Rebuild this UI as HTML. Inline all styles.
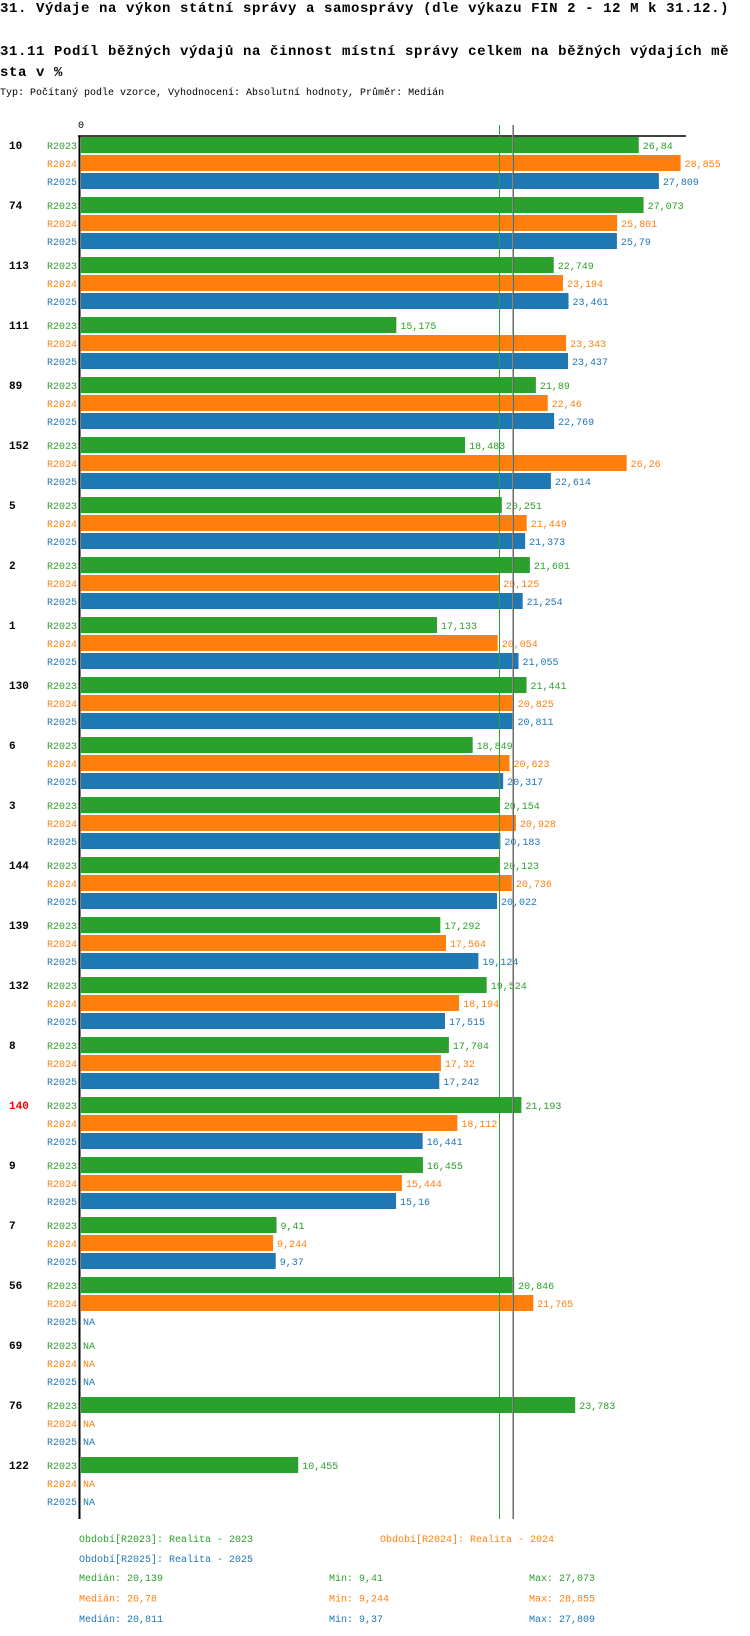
<!DOCTYPE html>
<html><head><meta charset="utf-8"><style>
body{margin:0;background:#fff;width:750px;height:1636px;overflow:hidden;font-family:"Liberation Mono",monospace;}
.t{position:absolute;left:0;font-weight:bold;font-size:14px;letter-spacing:0.6px;white-space:nowrap;color:#000}
.s{position:absolute;left:0;font-size:10px;letter-spacing:0;white-space:nowrap}
</style></head><body>
<div class="t" style="top:1px">31. Výdaje na výkon státní správy a samosprávy (dle výkazu FIN 2 - 12 M k 31.12.)</div>
<div class="t" style="top:44px">31.11 Podíl běžných výdajů na činnost místní správy celkem na běžných výdajích mě</div>
<div class="t" style="top:65px">sta v %</div>
<div class="s" style="top:88px">Typ: Počítaný podle vzorce, Vyhodnocení: Absolutní hodnoty, Průměr: Medián</div>
<svg id="c" width="750" height="1636" style="position:absolute;left:0;top:0"></svg>
<script>
const groups=["10","74","113","111","89","152","5","2","1","130","6","3","144","139","132","8","140","9","7","56","69","76","122"];
const s2023=[26.84,27.073,22.749,15.175,21.89,18.483,20.251,21.601,17.133,21.441,18.849,20.154,20.123,17.292,19.524,17.704,21.193,16.455,9.41,20.846,null,23.783,10.455];
const s2024=[28.855,25.801,23.194,23.343,22.46,26.26,21.449,20.125,20.054,20.825,20.623,20.928,20.736,17.564,18.194,17.32,18.112,15.444,9.244,21.765,null,null,null];
const s2025=[27.809,25.79,23.461,23.437,22.769,22.614,21.373,21.254,21.055,20.811,20.317,20.183,20.022,19.124,17.515,17.242,16.441,15.16,9.37,null,null,null,null];
const seriesNames=["R2023","R2024","R2025"];
const medians=[20.139,20.78,20.811];
const mins=[9.41,9.244,9.37];
const maxs=[27.073,28.855,27.809];
const colors=["#2ca02c","#ff7f0e","#1f77b4"];
const svg=document.getElementById('c');
const NS="http://www.w3.org/2000/svg";
const x0=81,k=20.78;
const X=v=>x0+v*k;
const Y=(g,s)=>137+g*60+s*18;
const fmt=v=>String(v).replace('.',',');
function mk(t,a,txt){const e=document.createElementNS(NS,t);for(const n in a)e.setAttribute(n,a[n]);if(txt!==undefined)e.textContent=txt;svg.appendChild(e);return e;}
const all=[s2023,s2024,s2025];
const yEnd=Y(groups.length-1,2)+26;
let e=mk('line',{x1:79.5,y1:136,x2:79.5,y2:yEnd,stroke:'#000','stroke-width':2});


e=mk('line',{x1:78,y1:136,x2:686,y2:136,stroke:'#000','stroke-width':1.5});


e=mk('text',{x:X(0)-3,y:128,'font-size':10,'font-family':'Liberation Mono, monospace'},'0');


groups.forEach((g,gi)=>{
  e=mk('text',{x:9,y:Y(gi,0)+12,'font-size':11,'font-weight':'bold',fill:g==="140"?'#ff0000':'#000','font-family':'Liberation Mono, monospace'},g);
  
  
  all.forEach((ser,si)=>{
    const y=Y(gi,si),v=ser[gi];
    e=mk('text',{x:77,y:y+12,'font-size':10,fill:colors[si],'text-anchor':'end','font-family':'Liberation Mono, monospace'},seriesNames[si]);
    
    
    if(v===null){
      e=mk('text',{x:83,y:y+12,'font-size':10,fill:colors[si],'font-family':'Liberation Mono, monospace'},'NA');
      
      
      return;
    }
    e=mk('rect',{x:x0,y:y,width:X(v)-x0,height:16,fill:colors[si]});
    
    
    e=mk('text',{x:X(v)+4,y:y+12,'font-size':10,fill:colors[si],'font-family':'Liberation Mono, monospace'},fmt(v));
    
    
  });
});
[1,2,0].forEach(si=>{
  e=mk('line',{x1:X(medians[si]),y1:125,x2:X(medians[si]),y2:yEnd,stroke:colors[si],'stroke-width':1});
  
  
});
function lt(x,y,c,t){return mk('text',{x:x,y:y,'font-size':10,fill:c,'font-family':'Liberation Mono, monospace'},t);}
e=lt(79,1542,colors[0],'Období[R2023]: Realita - 2023');


e=lt(380,1542,colors[1],'Období[R2024]: Realita - 2024');


e=lt(79,1562,colors[2],'Období[R2025]: Realita - 2025');


[0,1,2].forEach(si=>{
  const y=1581+si*20.5;
  e=lt(79,y,colors[si],'Medián: '+fmt(medians[si]));
  
  
  e=lt(329,y,colors[si],'Min: '+fmt(mins[si]));
  
  
  e=lt(529,y,colors[si],'Max: '+fmt(maxs[si]));
  
  
});
</script>
</body></html>
